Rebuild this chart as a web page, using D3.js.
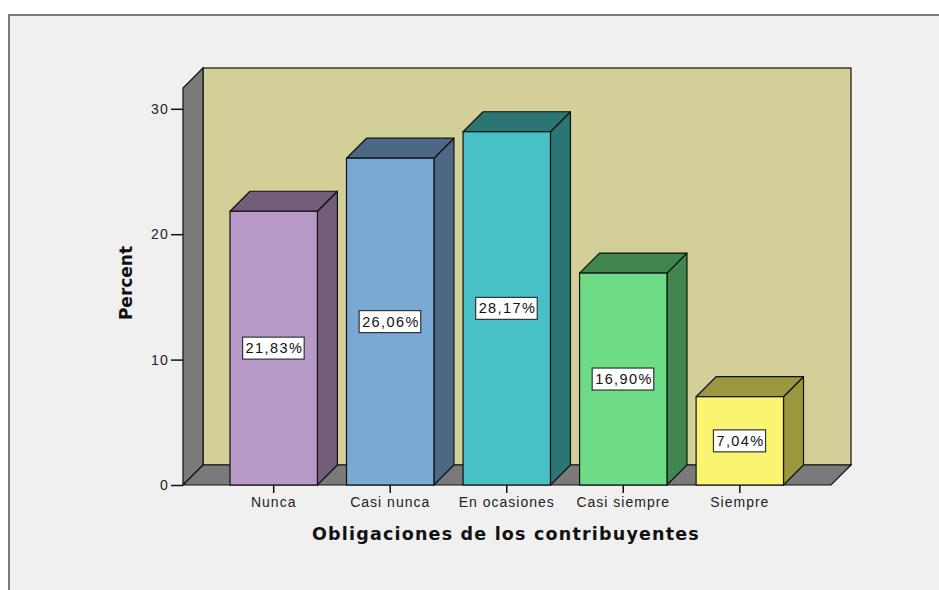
<!DOCTYPE html>
<html>
<head>
<meta charset="utf-8">
<script src="https://cdn.jsdelivr.net/npm/d3@7"></script>
<style>
  html, body { margin: 0; padding: 0; background: #ffffff; }
  svg { display: block; }
</style>
</head>
<body>
<svg id="chart" width="939" height="590"></svg>
<script>
// ---- data ----
const categories = ["Nunca", "Casi nunca", "En ocasiones", "Casi siempre", "Siempre"];
const percents = [21.83, 26.06, 28.17, 16.90, 7.04];
const valueLabels = ["21,83%", "26,06%", "28,17%", "16,90%", "7,04%"];
const yTicks = [0, 10, 20, 30];
const frontColors = ["#b89ac8", "#7aa9d6", "#47c1c6", "#6edb86", "#faf571"];
const sideColors = ["#725e7a", "#4b6884", "#2b7574", "#418550", "#9a973f"];
const xTitle = "Obligaciones de los contribuyentes";
const yTitle = "Percent";

// ---- layout ----
const svg = d3.select("#chart");
const depth = 20;
const x0 = 183, x1 = 831;       // front floor edge
const yBase = 485;

svg.append("rect").attr("x", 0).attr("y", 0).attr("width", 939).attr("height", 590).attr("fill", "#ffffff");
// outer frame
svg.append("rect").attr("x", 9).attr("y", 15).attr("width", 960).attr("height", 600)
  .attr("fill", "#f0f0f0").attr("stroke", "#7a7a7a").attr("stroke-width", 2);

const y = d3.scaleLinear().domain([0, 10]).range([yBase, yBase - 125.4]);
const yTop = y.invert(88);
const x = d3.scaleBand().domain(categories).range([230, 783.5]).paddingInner(0.25).paddingOuter(0);

const g = svg.append("g");

// back wall
g.append("rect").attr("x", x0 + depth).attr("y", y(yTop) - depth)
  .attr("width", x1 - x0).attr("height", yBase - y(yTop))
  .attr("fill", "#d3cf99").attr("stroke", "#111").attr("stroke-width", 1.2);
// left wall
g.append("polygon")
  .attr("points", [[x0, yBase], [x0, y(yTop)], [x0 + depth, y(yTop) - depth], [x0 + depth, yBase - depth]].map(p => p.join(",")).join(" "))
  .attr("fill", "#7a7a7a").attr("stroke", "#111").attr("stroke-width", 1.2);
// floor
g.append("polygon")
  .attr("points", [[x0, yBase], [x1, yBase], [x1 + depth, yBase - depth], [x0 + depth, yBase - depth]].map(p => p.join(",")).join(" "))
  .attr("fill", "#7a7a7a").attr("stroke", "#111").attr("stroke-width", 1.2);

// bars
const bars = g.selectAll("g.bar").data(categories).enter().append("g").attr("class", "bar");
bars.each(function(c, i) {
  const b = d3.select(this);
  const bx = x(c), bw = x.bandwidth(), by = y(percents[i]);
  b.append("polygon")
    .attr("points", [[bx + bw, by], [bx + bw + depth, by - depth], [bx + bw + depth, yBase - depth], [bx + bw, yBase]].map(p => p.join(",")).join(" "))
    .attr("fill", sideColors[i]).attr("stroke", "#111").attr("stroke-width", 1.2).attr("stroke-linejoin", "round");
  b.append("polygon")
    .attr("points", [[bx, by], [bx + depth, by - depth], [bx + bw + depth, by - depth], [bx + bw, by]].map(p => p.join(",")).join(" "))
    .attr("fill", sideColors[i]).attr("stroke", "#111").attr("stroke-width", 1.2).attr("stroke-linejoin", "round");
  b.append("rect").attr("x", bx).attr("y", by).attr("width", bw).attr("height", yBase - by)
    .attr("fill", frontColors[i]).attr("stroke", "#111").attr("stroke-width", 1.2);
  // value label
  const cy = (by + yBase) / 2;
  const t = b.append("text").attr("x", bx + bw / 2 + 0.7).attr("y", cy + 5)
    .attr("text-anchor", "middle")
    .style("font-family", "'Liberation Sans', Arial, sans-serif").style("font-size", "14.5px")
    .style("letter-spacing", "1.4px").attr("fill", "#111").text(valueLabels[i]);
  const bb = t.node().getBBox();
  b.insert("rect", "text").attr("x", bb.x - 3).attr("y", cy - 11).attr("width", bb.width + 4).attr("height", 22)
    .attr("fill", "#ffffff").attr("stroke", "#333").attr("stroke-width", 1.2);
});

// y axis
const yAxis = d3.axisLeft(y).tickValues(yTicks).tickSize(12).tickPadding(2).tickFormat(d3.format("d"));
const ya = svg.append("g").attr("transform", `translate(${x0},0)`).call(yAxis);
ya.select(".domain").remove();
ya.selectAll(".tick line").attr("stroke", "#111").attr("stroke-width", 1.5);
ya.selectAll(".tick text").attr("fill", "#222")
  .style("font-family", "'Liberation Sans', Arial, sans-serif").style("font-size", "14px").style("letter-spacing", "1.2px");

// x axis
const xAxis = d3.axisBottom(x).tickSize(8).tickPadding(4);
const xa = svg.append("g").attr("transform", `translate(0,${yBase})`).call(xAxis);
xa.select(".domain").remove();
xa.selectAll(".tick line").attr("stroke", "#111").attr("stroke-width", 1.5);
xa.selectAll(".tick text").attr("fill", "#222")
  .style("font-family", "'Liberation Sans', Arial, sans-serif").style("font-size", "14px").style("letter-spacing", "1px");

// titles
svg.append("text").attr("x", 506).attr("y", 540).attr("text-anchor", "middle")
  .style("font-family", "'DejaVu Sans', Verdana, sans-serif").style("font-size", "17.5px").style("font-weight", "bold")
  .style("letter-spacing", "1.2px").attr("fill", "#111").text(xTitle);
svg.append("text").attr("transform", "translate(132,283) rotate(-90)").attr("text-anchor", "middle")
  .style("font-family", "'DejaVu Sans', Verdana, sans-serif").style("font-size", "17px").style("font-weight", "bold")
  .attr("fill", "#111").text(yTitle);
</script>
</body>
</html>
